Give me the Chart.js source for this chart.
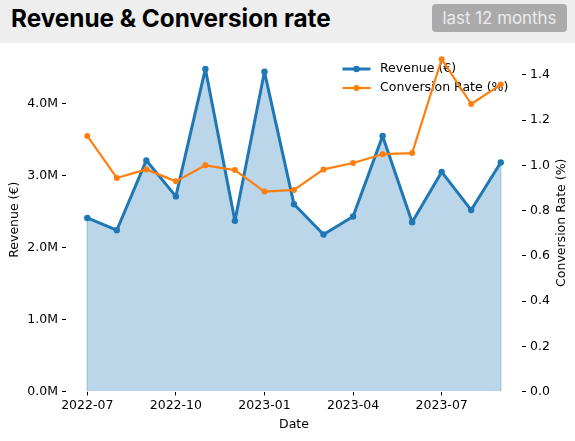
<!DOCTYPE html>
<html>
<head>
<meta charset="utf-8">
<script src="https://cdn.jsdelivr.net/npm/chart.js@4.4.1/dist/chart.umd.min.js"></script>
<style>
  html, body { margin: 0; padding: 0; background: #ffffff; }
  #wrap { position: relative; width: 575px; height: 441px; overflow: hidden; }
  #header { position: absolute; left: 0; top: 0; width: 575px; height: 43px; background: #eeeeee; z-index: 2; }
  #title { position: absolute; left: 11px; top: 6px; font-family: Inter, "Liberation Sans", sans-serif; font-weight: 700; font-size: 24.3px; line-height: 24px; color: #000; white-space: nowrap; }
  #badge { position: absolute; left: 432px; top: 4px; width: 135px; height: 28px; background: #aaaaaa; border-radius: 4px; color: #ececec; font-family: Inter, "Liberation Sans", sans-serif; font-size: 16.9px; line-height: 28px; text-align: center; white-space: nowrap; }
  #c { position: absolute; left: 0; top: 0; z-index: 1; }
</style>
</head>
<body>
<div id="wrap">
  <div id="header"><div id="title">Revenue &amp; Conversion rate</div><div id="badge">last 12 months</div></div>
  <canvas id="c" width="575" height="441"></canvas>
</div>
<script>
// ---- data ----
const months = ['2022-07','2022-08','2022-09','2022-10','2022-11','2022-12','2023-01','2023-02','2023-03','2023-04','2023-05','2023-06','2023-07','2023-08','2023-09'];
const revenue = [2410000, 2240000, 3210000, 2710000, 4480000, 2370000, 4440000, 2600000, 2180000, 2430000, 3550000, 2350000, 3050000, 2520000, 3180000];
const conversionRate = [1.130, 0.944, 0.982, 0.929, 1.000, 0.979, 0.884, 0.891, 0.982, 1.010, 1.049, 1.054, 1.469, 1.271, 1.357];
const xTickLabels = ['2022-07','2022-10','2023-01','2023-04','2023-07'];
const revenueTicks = [0, 1000000, 2000000, 3000000, 4000000];
const conversionTicks = [0, 0.2, 0.4, 0.6, 0.8, 1.0, 1.2, 1.4];

const BLUE = '#1f77b4';
const ORANGE = '#ff7f0e';
const FONT = { family: '"DejaVu Sans", sans-serif', size: 12.5 };

const revPoints = revenue.map((v, i) => ({ x: i, y: v }));
const convPoints = conversionRate.map((v, i) => ({ x: i, y: v }));

// fill edges (like matplotlib fill_between outline at the ends)
const fillEdgePlugin = {
  id: 'fillEdge',
  beforeDatasetDraw(chart, args) {
    if (args.index !== 0) return;
    const meta = chart.getDatasetMeta(0);
    const ys = chart.scales.y;
    const pts = meta.data;
    const ctx = chart.ctx;
    ctx.save();
    ctx.strokeStyle = 'rgba(31,119,180,0.3)';
    ctx.lineWidth = 1.5;
    [pts[0], pts[pts.length - 1]].forEach(p => {
      ctx.beginPath();
      ctx.moveTo(p.x, p.y);
      ctx.lineTo(p.x, ys.getPixelForValue(0));
      ctx.stroke();
    });
    ctx.restore();
  }
};

const legendPlugin = {
  id: 'mplLegend',
  afterDatasetDraw(chart, args) {
    if (args.index !== 0) return;
    const ctx = chart.ctx;
    const rows = [
      { ds: chart.data.datasets[0], y: 69 },
      { ds: chart.data.datasets[1], y: 88 }
    ];
    ctx.save();
    rows.forEach(r => {
      ctx.strokeStyle = r.ds.borderColor;
      ctx.lineWidth = r.ds.borderWidth;
      ctx.beginPath();
      ctx.moveTo(342.5, r.y);
      ctx.lineTo(370.5, r.y);
      ctx.stroke();
      ctx.fillStyle = r.ds.borderColor;
      ctx.beginPath();
      ctx.arc(356.5, r.y, r.ds.pointRadius, 0, Math.PI * 2);
      ctx.fill();
      ctx.fillStyle = '#000';
      ctx.font = '12.5px "DejaVu Sans", sans-serif';
      ctx.textBaseline = 'middle';
      ctx.textAlign = 'left';
      ctx.fillText(r.ds.label, 380, r.y);
    });
    ctx.restore();
  }
};

const rightTitlePlugin = {
  id: 'rightTitle',
  afterDraw(chart) {
    const ctx = chart.ctx;
    const area = chart.chartArea;
    ctx.save();
    ctx.translate(561.5, (area.top + area.bottom) / 2 + 3);
    ctx.rotate(-Math.PI / 2);
    ctx.fillStyle = '#000';
    ctx.font = '12.5px "DejaVu Sans", sans-serif';
    ctx.textAlign = 'center';
    ctx.textBaseline = 'middle';
    ctx.fillText('Conversion Rate (%)', 0, 0);
    ctx.restore();
  }
};

const tickGrid = { display: true, drawOnChartArea: false, drawTicks: true, tickLength: 4, tickColor: '#000', tickWidth: 1, lineWidth: 1, color: '#000' };

new Chart(document.getElementById('c'), {
  type: 'line',
  data: {
    datasets: [
      {
        label: 'Revenue (€)',
        data: revPoints,
        yAxisID: 'y',
        borderColor: BLUE,
        backgroundColor: 'rgba(31,119,180,0.3)',
        borderWidth: 3,
        borderJoinStyle: 'round',
        borderCapStyle: 'round',
        pointRadius: 3.2,
        pointBackgroundColor: BLUE,
        pointBorderWidth: 0,
        fill: 'origin',
        tension: 0,
        order: 2
      },
      {
        label: 'Conversion Rate (%)',
        data: convPoints,
        yAxisID: 'y1',
        borderColor: ORANGE,
        backgroundColor: ORANGE,
        borderWidth: 2.2,
        borderJoinStyle: 'round',
        borderCapStyle: 'round',
        pointRadius: 3,
        pointBackgroundColor: ORANGE,
        pointBorderWidth: 0,
        fill: false,
        tension: 0,
        order: 1
      }
    ]
  },
  options: {
    responsive: false,
    animation: false,
    devicePixelRatio: 1,
    layout: { padding: { top: 48, left: 0, right: 0, bottom: 0 } },
    plugins: { legend: { display: false }, title: { display: false }, tooltip: { enabled: false } },
    scales: {
      x: {
        type: 'linear',
        min: -0.72,
        max: 14.72,
        afterBuildTicks(s) { s.ticks = xTickLabels.map(l => ({ value: months.indexOf(l) })); },
        afterFit(s) { s.height = 49.5; },
        ticks: { font: FONT, color: '#000', padding: 3, maxRotation: 0, autoSkip: false, callback: v => months[v] },
        grid: tickGrid,
        border: { display: false },
        title: { display: true, text: 'Date', font: FONT, color: '#000', padding: { top: 0, bottom: 9 } }
      },
      y: {
        type: 'linear',
        position: 'left',
        min: 0,
        max: 4770800,
        afterBuildTicks(s) { s.ticks = revenueTicks.map(v => ({ value: v })); },
        afterFit(s) { s.width = 66; },
        ticks: { font: FONT, color: '#000', padding: 4, callback: v => (v / 1e6).toFixed(1) + 'M' },
        grid: tickGrid,
        border: { display: false },
        title: { display: true, text: 'Revenue (€)', font: FONT, color: '#000', padding: { top: 7, bottom: 0 } }
      },
      y1: {
        type: 'linear',
        position: 'right',
        min: 0,
        max: 1.5186,
        afterBuildTicks(s) { s.ticks = conversionTicks.map(v => ({ value: v })); },
        afterFit(s) { s.width = 53; },
        ticks: { font: FONT, color: '#000', padding: 4, callback: v => v.toFixed(1) },
        grid: tickGrid,
        border: { display: false },
        title: { display: false }
      }
    }
  },
  plugins: [fillEdgePlugin, legendPlugin, rightTitlePlugin]
});
</script>
</body>
</html>
